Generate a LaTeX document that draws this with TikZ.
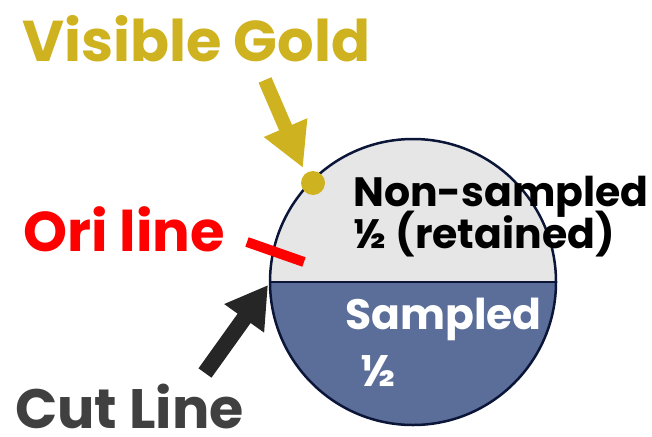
\documentclass[tikz,border=0pt]{standalone}
\usepackage{fontspec}
\setmainfont{Poppins}
\usetikzlibrary{arrows.meta}
\definecolor{goldc}{HTML}{CFB21F}
\definecolor{navyc}{HTML}{0B1538}
\definecolor{lgrayc}{HTML}{E6E6E6}
\definecolor{bluec}{HTML}{5A6E99}
\definecolor{dgrayc}{HTML}{404040}
\definecolor{blackc}{HTML}{262626}
\tikzset{
  lbl/.style={anchor=base west, inner sep=0pt, font=\bfseries},
}
\begin{document}
\begin{tikzpicture}[x=1pt,y=-1pt]
\useasboundingbox (0,0) rectangle (652,436);
\coordinate (c) at (413,282);
\begin{scope}
  \clip (0,0) rectangle (652,282);
  \fill[lgrayc] (c) circle[radius=143];
\end{scope}
\begin{scope}
  \clip (0,282) rectangle (652,436);
  \fill[bluec] (c) circle[radius=143];
\end{scope}
\coordinate (cl) at (270,282);
\coordinate (cr) at (556,282);
\draw[navyc, line width=2pt] (cl) -- (cr);
\draw[navyc, line width=2.5pt] (c) circle[radius=143];
\node[circle, fill=goldc, minimum size=24pt, inner sep=0pt] (dot) at (313,183) {};
\coordinate (o1) at (247,242);
\coordinate (o2) at (304,262);
\draw[red, line width=10pt] (o1) -- (o2);
\coordinate (gt) at (265,80);
\coordinate (gh) at (303,168);
\draw[goldc, line width=14pt, -{Triangle[length=44pt,width=44pt]}] (gt) -- (gh);
\coordinate (bt) at (205,373);
\coordinate (bh) at (268,285);
\draw[blackc, line width=16pt, -{Triangle[length=41pt,width=46pt]}] (bt) -- (bh);
\node[lbl, text=goldc, font=\fontsize{57.5}{58}\selectfont\bfseries] (vg) at (22,61) {Visible Gold};
\node[lbl, text=red, font=\fontsize{56}{56}\selectfont\bfseries] (ori) at (23,251) {Ori line};
\node[lbl, text=dgrayc, font=\fontsize{55.5}{56}\selectfont\bfseries] (cut) at (15,428) {Cut Line};
\node[lbl, text=black, font=\fontsize{41}{41}\selectfont\bfseries] (ns) at (353,206) {Non-sampled};
\node[lbl, text=black, font=\fontsize{41}{41}\selectfont\bfseries] (ret) at (353,248) {½ (retained)};
\node[lbl, text=white, font=\fontsize{42.5}{43}\selectfont\bfseries] (sam) at (345,329) {Sampled};
\node[lbl, text=white, font=\fontsize{44}{44}\selectfont\bfseries] (half) at (360,386) {½};
\end{tikzpicture}
\end{document}
